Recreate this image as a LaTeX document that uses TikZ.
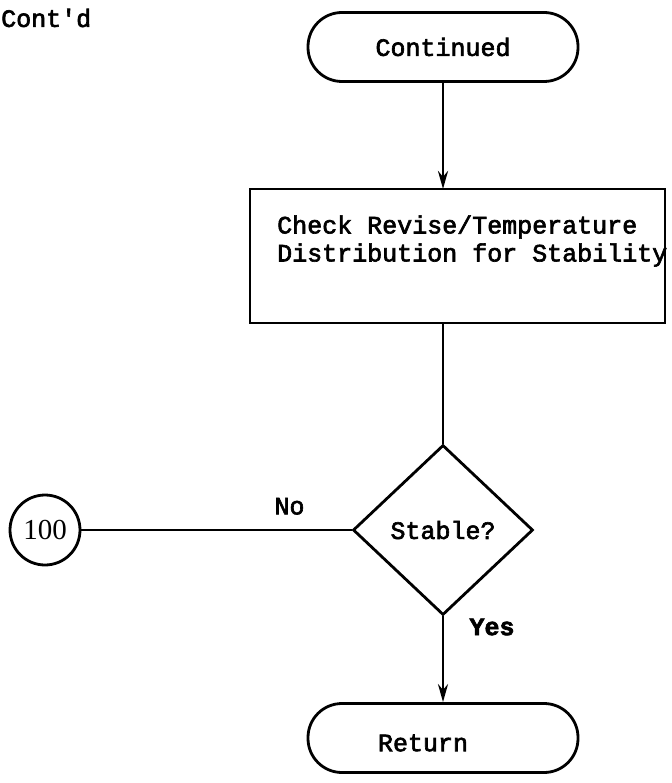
\documentclass[tikz,border=0pt]{standalone}
\usepackage{fontspec}
\setmainfont{Liberation Mono}[FakeBold=2.5]
\newfontfamily\numfont{Liberation Serif}
\usetikzlibrary{shapes.geometric,arrows.meta}
\tikzset{
  flow/.style={line width=2.8pt},
  typed/.style={font=\fontsize{25}{28}\selectfont, inner sep=0pt},
  terminal/.style={flow, draw, rounded corners=34pt, minimum width=270pt, minimum height=69pt, typed},
  decision/.style={flow, draw, diamond, minimum width=180pt, minimum height=170pt, inner sep=0pt, typed},
  connector/.style={flow, draw, circle, minimum size=70pt, inner sep=0pt, font=\numfont\fontsize{29}{30}\selectfont},
  arrowed/.style={flow, -{Stealth[length=18pt,width=10pt]}}
}
\begin{document}
\begin{tikzpicture}[x=1pt, y=-1pt]
\useasboundingbox (0,0) rectangle (671,783);
\node[typed, anchor=west] (contd) at (1,18) {Cont\textquotesingle d};
\node[terminal] (cont) at (443,47) {Continued};
\draw[flow] (250,189) rectangle (665,323);
\coordinate (checktop) at (443,189);
\coordinate (checkbot) at (443,323);
\node[typed, anchor=west, align=left] (check) at (277,241)
  {Check Revise/Temperature\\Distribution for Stability};
\node[decision] (stable) at (443,530) {Stable?};
\node[connector] (c100) at (45,530) {100};
\node[terminal] (ret) at (443,738) {};
\node[typed] (rettext) at (423,743) {Return};
\draw[arrowed] (cont) -- (checktop);
\draw[flow] (checkbot) -- (stable.north);
\draw[flow] (c100) -- (stable.west)
  node[typed, pos=0.77, above=14pt] (no) {No};
\draw[arrowed] (stable.south) -- (ret.north);
\node[typed, font=\fontsize{25}{28}\selectfont\bfseries] (yes) at (492,627) {Yes};
\end{tikzpicture}
\end{document}
